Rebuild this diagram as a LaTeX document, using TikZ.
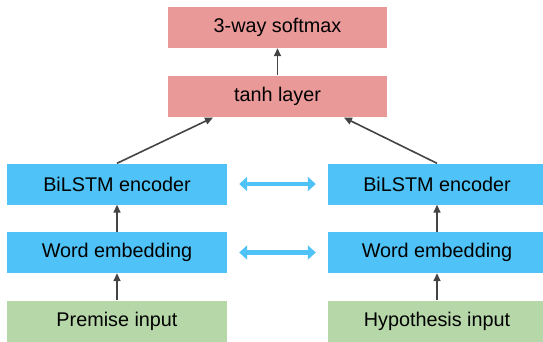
\documentclass[tikz,border=0pt]{standalone}
\usepackage{fontspec}
\setmainfont{Liberation Sans}
\usepackage{tikz}
\usetikzlibrary{arrows.meta,positioning}

\definecolor{mlpred}{HTML}{EA9999}
\definecolor{encblue}{HTML}{4FC3F7}
\definecolor{ingreen}{HTML}{B6D7A8}
\definecolor{arrgray}{HTML}{444444}

\begin{document}
\begin{tikzpicture}[x=1pt, y=-1pt, inner sep = 0pt,
    every node/.style={font=\fontsize{19.8}{22}\selectfont},
    layer/.style={minimum width=219pt, minimum height=41pt},
    flow/.style={draw=arrgray, line width=1.6pt, -{Triangle[length=8pt,width=7pt]}},
    shared/.style={draw=encblue, line width=4.2pt, {Triangle[length=8pt,width=14pt]}-{Triangle[length=8pt,width=14pt]}, shorten <=12pt, shorten >=12pt}]
    \useasboundingbox (0, 0) rectangle (543, 341);
    \clip (0, 0) rectangle (543, 341);

    % classifier on top
    \node[layer, fill=mlpred] (softmax) at (277.5, 27.5) {3-way softmax};
    \node[layer, fill=mlpred] (tanh) at (277.5, 96) {tanh layer};

    % premise side
    \node[layer, fill=encblue, minimum width=220pt] (encL) at (117, 184) {BiLSTM encoder};
    \node[layer, fill=encblue, minimum width=220pt] (embL) at (117, 252.5) {Word embedding};
    \node[layer, fill=ingreen, minimum width=220pt] (premise) at (117, 321) {Premise input};

    % hypothesis side
    \node[layer, fill=encblue, minimum width=218pt] (encR) at (437, 184) {BiLSTM encoder};
    \node[layer, fill=encblue, minimum width=218pt] (embR) at (437, 252.5) {Word embedding};
    \node[layer, fill=ingreen, minimum width=218pt] (hypo) at (437, 321) {Hypothesis input};

    \draw[flow] (premise) -- (embL);
    \draw[flow] (embL) -- (encL);
    \draw[flow] (hypo) -- (embR);
    \draw[flow] (embR) -- (encR);
    \draw[flow] (tanh) -- (softmax);
    \draw[flow, shorten >=2pt] (encL.north) -- ([xshift=47pt]tanh.south west);
    \draw[flow, shorten >=2pt] (encR.north) -- ([xshift=-45pt]tanh.south east);

    % shared weights
    \draw[shared] (encL) -- (encR);
    \draw[shared] (embL) -- (embR);
  \end{tikzpicture}
\end{document}
